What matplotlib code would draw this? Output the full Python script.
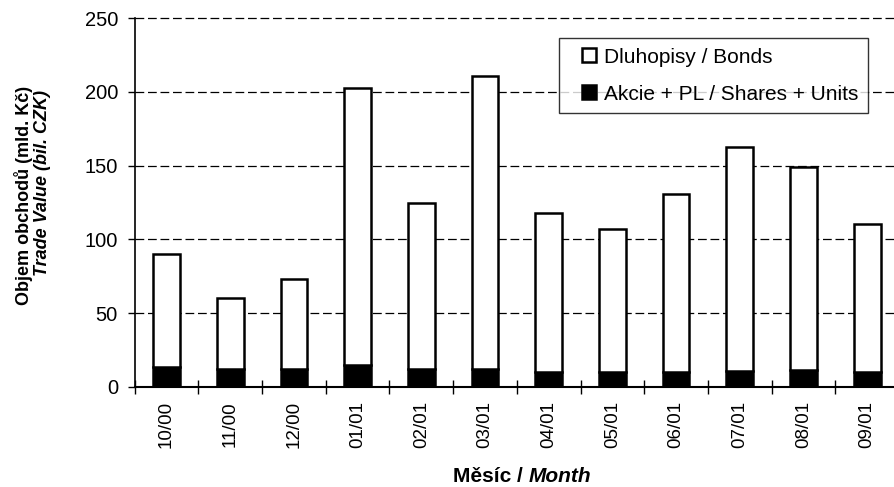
"""
Objem obchodů na burze po měsících - skládaný sloupcový graf
"""

import matplotlib
matplotlib.use("Agg")
import matplotlib.pyplot as plt
from matplotlib.patches import Rectangle
from matplotlib.legend_handler import HandlerPatch

plt.rcParams['font.family'] = ['Liberation Sans', 'DejaVu Sans']

# Data (mld. Kč)
months = ['10/00', '11/00', '12/00', '01/01', '02/01', '03/01',
          '04/01', '05/01', '06/01', '07/01', '08/01', '09/01']
shares = [13.7, 12.4, 12.1, 15.1, 12.4, 11.9, 10.5, 9.9, 10.5, 11.0, 11.5, 9.9]
bonds = [76.6, 48.1, 61.3, 187.4, 112.1, 198.6, 107.5, 97.3, 120.0, 151.3, 137.8, 100.6]
y_ticks = [0, 50, 100, 150, 200, 250]


def square_patch(legend, orig_handle, xdescent, ydescent, width, height, fontsize):
    """Čtverec v legendě zarovnaný doprava"""
    s = height
    return Rectangle((-xdescent + width - s, -ydescent), s, s)


def plot_trades():
    """Vykreslení grafu"""
    W, H = 895, 487
    fig = plt.figure(figsize=(W / 100, H / 100), dpi=100)
    ax = fig.add_axes([134.65 / W, 100 / H, (899 - 134.65) / W, 369 / H])

    x = list(range(len(months)))
    width = 0.42

    # Sloupce: akcie dole (černé), dluhopisy nahoře (bílé)
    ax.bar(x, shares, width, color='black', edgecolor='black', linewidth=1.8,
           label='Akcie + PL / Shares + Units', zorder=3)
    ax.bar(x, bonds, width, bottom=shares, color='white', edgecolor='black',
           linewidth=1.8, label='Dluhopisy / Bonds', zorder=3)

    ax.set_xlim(-0.5, len(months) - 0.5)
    ax.set_ylim(0, 250)
    ax.set_yticks(y_ticks)
    ax.set_yticklabels([str(v) for v in y_ticks], fontsize=14.5)

    # Mřížka - čárkované čáry
    for v in y_ticks[1:]:
        ax.axhline(v, color='black', linewidth=0.9, dashes=(7, 3), zorder=1,
                   clip_on=False)

    ax.set_xticks(x)
    ax.set_xticklabels(months, rotation=90, fontsize=13.5)
    ax.set_xticks([i - 0.5 for i in range(len(months) + 1)], minor=True)
    ax.tick_params(axis='x', which='major', length=0, pad=10)
    ax.tick_params(axis='x', which='minor', direction='inout', length=9.5,
                   width=1, color='black')
    ax.tick_params(axis='y', which='major', direction='out', length=5,
                   width=1, pad=7)

    for side in ['top', 'right']:
        ax.spines[side].set_visible(False)
    ax.spines['left'].set_linewidth(1.2)
    ax.spines['bottom'].set_linewidth(1.5)

    # Legenda
    h_b = Rectangle((0, 0), 1, 1, facecolor='white', edgecolor='black', linewidth=1.8)
    h_s = Rectangle((0, 0), 1, 1, facecolor='black', edgecolor='black', linewidth=1.8)
    leg = fig.legend([h_b, h_s], ['Dluhopisy / Bonds', 'Akcie + PL / Shares + Units'],
                     loc='upper left', bbox_to_anchor=(559 / W, 1 - 38 / H),
                     fontsize=15, frameon=True, fancybox=False, shadow=False,
                     handlelength=1.34, handleheight=0.68, handletextpad=0.34,
                     labelspacing=0.86, borderpad=0.46, borderaxespad=0,
                     handler_map={Rectangle: HandlerPatch(patch_func=square_patch)})
    leg.get_frame().set_edgecolor('black')
    leg.get_frame().set_linewidth(1.0)

    # Popisek osy Y (dva řádky)
    fig.text(23.5 / W, 1 - 195 / H, 'Objem obchodů (mld. Kč)', rotation=90,
             ha='center', va='center', fontsize=13, fontweight='bold')
    fig.text(42.5 / W, 1 - 182.5 / H, 'Trade Value (bil. CZK)', rotation=90,
             ha='center', va='center', fontsize=13, fontweight='bold',
             fontstyle='italic')

    # Popisek osy X
    t1 = fig.text(453 / W, 1 - 482 / H, 'Měsíc /', ha='left', va='baseline',
                  fontsize=15, fontweight='bold')
    fig.canvas.draw()
    bb = t1.get_window_extent()
    fig.text((bb.x1 + 5.5) / W, 1 - 482 / H, 'Month', ha='left', va='baseline',
             fontsize=15, fontweight='bold', fontstyle='italic')

    fig.savefig('out.png', dpi=100)


def main():
    plot_trades()


if __name__ == "__main__":
    main()
